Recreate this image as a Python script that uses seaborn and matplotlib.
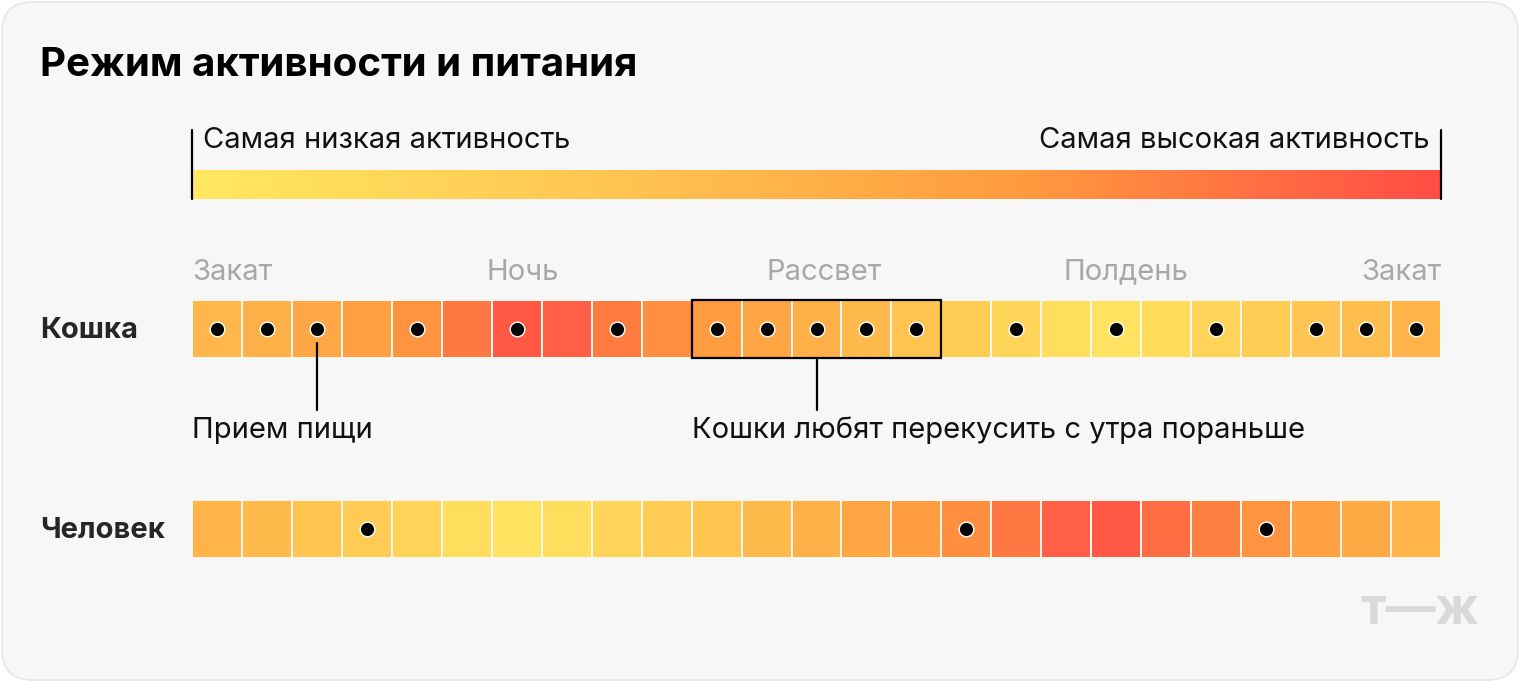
import numpy as np
import pandas as pd
import matplotlib
matplotlib.use("Agg")
import matplotlib.pyplot as plt
import seaborn as sns
from matplotlib.colors import LinearSegmentedColormap
from matplotlib.patches import FancyBboxPatch, Rectangle
from matplotlib.lines import Line2D

# ---------------- data ----------------
title = "Режим активности и питания"
legend_low = "Самая низкая активность"
legend_high = "Самая высокая активность"
rows = ["Кошка", "Человек"]
time_labels = ["Закат", "Ночь", "Рассвет", "Полдень", "Закат"]
time_positions = [0, 6.62, 12.65, 18.7, 25]

# activity level per hour-cell (0 = lowest, 1 = highest)
cat_activity = [0.45, 0.50, 0.57, 0.63, 0.70, 0.82, 0.95, 0.92, 0.80, 0.72,
                0.66, 0.58, 0.50, 0.42, 0.35, 0.27, 0.18, 0.10, 0.05, 0.12,
                0.20, 0.27, 0.34, 0.40, 0.48]
human_activity = [0.48, 0.42, 0.35, 0.28, 0.20, 0.10, 0.05, 0.10, 0.18, 0.28,
                  0.35, 0.42, 0.50, 0.58, 0.65, 0.72, 0.82, 0.92, 0.95, 0.86,
                  0.78, 0.70, 0.62, 0.55, 0.48]
# meals (1 = meal in this cell)
cat_meals = [1, 1, 1, 0, 1, 0, 1, 0, 1, 0,
             1, 1, 1, 1, 1, 0, 1, 0, 1, 0,
             1, 0, 1, 1, 1]
human_meals = [0, 0, 0, 1, 0, 0, 0, 0, 0, 0,
               0, 0, 0, 0, 0, 1, 0, 0, 0, 0,
               0, 1, 0, 0, 0]
meal_label = "Прием пищи"
snack_label = "Кошки любят перекусить с утра пораньше"
snack_cells = (10, 15)   # cells 11..15

# ---------------- style ----------------
sns.set_theme(style="white")
plt.rcParams["font.family"] = ["Inter", "DejaVu Sans"]

W, H = 1520, 682
fig = plt.figure(figsize=(W / 100, H / 100), dpi=100)
fig.patch.set_facecolor("white")

def rect(x0, y0, x1, y1):
    return [x0 / W, 1 - y1 / H, (x1 - x0) / W, (y1 - y0) / H]

def fx(x):
    return x / W

def fy(y):
    return 1 - y / H

# card background
card = FancyBboxPatch((fx(2), fy(680)), fx(1516), 678 / H,
                      boxstyle="round,pad=0,rounding_size=0.02",
                      transform=fig.transFigure, facecolor="#F7F7F7",
                      edgecolor="#E6E6E6", linewidth=1.2, zorder=-10,
                      mutation_aspect=W / H)
fig.patches.append(card)

cmap = LinearSegmentedColormap.from_list(
    "act", ["#FFE862", "#FFC551", "#FF9B3F", "#FF4D45"])

fig.text(fx(40), fy(66), title, fontsize=29, fontweight="bold",
         color="black", ha="left", va="center")

# legend gradient bar
lax = fig.add_axes(rect(192, 170, 1441, 199))
lax.imshow(np.linspace(0, 1, 512)[None, :], cmap=cmap, aspect="auto",
           vmin=0, vmax=1, interpolation="bilinear")
lax.set_axis_off()
for x in (192, 1441):
    fig.add_artist(Line2D([fx(x), fx(x)], [fy(130), fy(199)],
                          transform=fig.transFigure, color="black", lw=1.6))
fig.text(fx(203), fy(140), legend_low, fontsize=21, ha="left",
         va="center", color="#111111")
fig.text(fx(1430), fy(140), legend_high, fontsize=21, ha="right",
         va="center", color="#111111")

def draw_row(y0, y1, values, meals):
    ax = fig.add_axes(rect(192, y0, 1441, y1))
    df = pd.DataFrame([values])
    sns.heatmap(df, ax=ax, cmap=cmap, vmin=0, vmax=1, cbar=False,
                linewidths=1.1, linecolor="#FFF6EC", xticklabels=False,
                yticklabels=False)
    xs = [i + 0.5 for i, m in enumerate(meals) if m]
    ax.scatter(xs, [0.5] * len(xs), s=110, color="black",
               edgecolor="white", linewidth=1.0, zorder=5)
    ax.set_xlim(0, len(values))
    ax.set_ylim(1, 0)
    ax.set_facecolor("none")
    for s in ax.spines.values():
        s.set_visible(False)
    return ax

cat_ax = draw_row(300, 358, cat_activity, cat_meals)
hum_ax = draw_row(500, 558, human_activity, human_meals)

# time labels above cat row
for i, (lab, pos) in enumerate(zip(time_labels, time_positions)):
    ha = "left" if i == 0 else ("right" if i == len(time_labels) - 1 else "center")
    cat_ax.text(pos, -0.48, lab, fontsize=21, color="#A8A8A8", ha=ha,
                va="center", clip_on=False)

# row labels
fig.text(fx(40), fy(330), rows[0], fontsize=21, fontweight="bold",
         ha="left", va="center")
fig.text(fx(40), fy(530), rows[1], fontsize=21, fontweight="bold",
         ha="left", va="center")

# snack box
cat_ax.add_patch(Rectangle((snack_cells[0], 0), snack_cells[1] - snack_cells[0], 1,
                           fill=False, edgecolor="black", lw=1.6,
                           clip_on=False, zorder=6))
fig.add_artist(Line2D([fx(817), fx(817)], [fy(359), fy(410)],
                      transform=fig.transFigure, color="black", lw=1.6))
fig.text(fx(692), fy(430), snack_label, fontsize=21, ha="left",
         va="center", color="#111111")

# meal callout
fig.add_artist(Line2D([fx(317), fx(317)], [fy(343), fy(410)],
                      transform=fig.transFigure, color="black", lw=1.6))
fig.text(fx(192), fy(430), meal_label, fontsize=21, ha="left",
         va="center", color="#111111")

# watermark
fig.text(fx(1479), fy(611), "т—ж", fontsize=36, fontweight="bold",
         color="#D9D9D9", ha="right", va="center")

fig.savefig("out.png", dpi=100, facecolor="white")
